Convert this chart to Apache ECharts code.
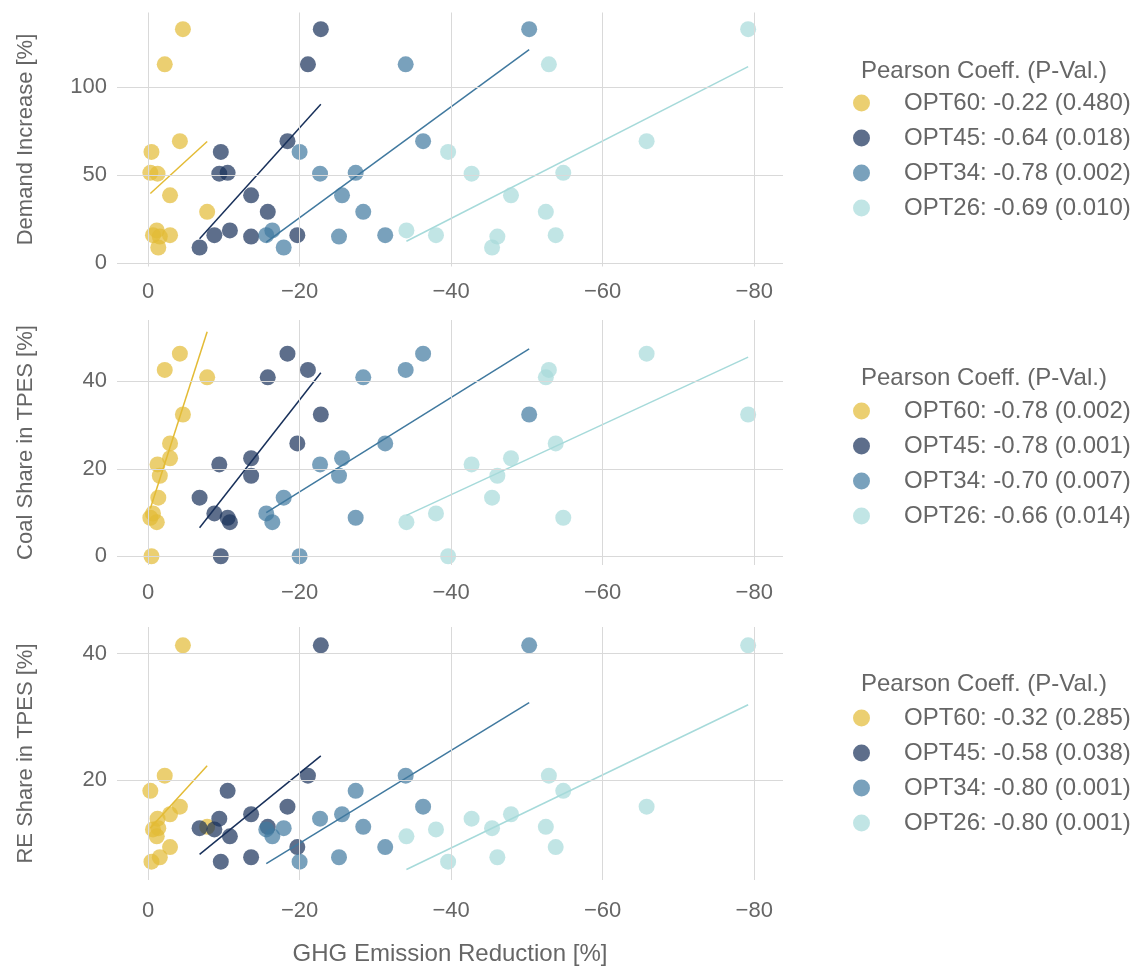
<!DOCTYPE html>
<html>
<head>
<meta charset="utf-8">
<script src="https://cdn.jsdelivr.net/npm/echarts@6/dist/echarts.min.js"></script>
<style>
html,body{margin:0;padding:0;background:#fff}
#main{width:1137px;height:967px}
</style>
</head>
<body>
<div id="main"></div>
<script>
// one value per country, same order in every array
const x60 = [-4.6, -2.2, -4.2, -0.45, -0.3, -1.25, -2.9, -7.8, -1.15, -0.65, -1.55, -2.9, -1.35]
const x45 = [-22.8, -21.1, -18.4, -9.6, -10.5, -9.4, -13.6, -15.8, -10.8, -8.75, -13.6, -19.7, -6.8]
const x34 = [-50.3, -34.0, -36.3, -20.0, -27.4, -22.7, -25.6, -28.4, -16.4, -15.6, -25.2, -31.3, -17.9]
const x26 = [-79.2, -52.9, -65.8, -39.6, -54.8, -42.7, -47.9, -52.5, -34.1, -38.0, -46.1, -53.8, -45.4]

const demandIncrease = [133, 113, 69.3, 63.2, 51.3, 50.8, 38.5, 29.1, 18.5, 15.8, 15.0, 15.8, 8.8]
const coalShare = [32.4, 42.6, 46.3, 0, 8.8, 21.0, 22.4, 40.9, 7.8, 9.8, 18.4, 25.8, 13.4]
const reShare = [41.3, 20.7, 15.8, 7.1, 18.3, 13.9, 14.6, 12.6, 11.1, 12.2, 7.8, 9.4, 12.4]

const scenarios = ['OPT60', 'OPT45', 'OPT34', 'OPT26']
const legendDemand = ['OPT60: -0.22 (0.480)', 'OPT45: -0.64 (0.018)', 'OPT34: -0.78 (0.002)', 'OPT26: -0.69 (0.010)']
const legendCoal = ['OPT60: -0.78 (0.002)', 'OPT45: -0.78 (0.001)', 'OPT34: -0.70 (0.007)', 'OPT26: -0.66 (0.014)']
const legendRe = ['OPT60: -0.32 (0.285)', 'OPT45: -0.58 (0.038)', 'OPT34: -0.80 (0.001)', 'OPT26: -0.80 (0.001)']

const xTicks = [0, -20, -40, -60, -80]
const yTicksDemand = [0, 50, 100]
const yTicksCoal = [0, 20, 40]
const yTicksRe = [20, 40]

const xByScenario = [x60, x45, x34, x26]
const colors = ['#E3BB35', '#18305A', '#40799F', '#A6DADA']
const textColor = '#666'
const gridColor = '#d9d9d9'
const font = 'Liberation Sans, Arial, Helvetica, sans-serif'

const panels = [
	{ name: 'Demand Increase [%]', values: demandIncrease, legend: legendDemand, ticks: yTicksDemand, min: -2, max: 142.5, top: 12.5, height: 254, labelMargin: 14, titleTop: 59, legendTop: 91 },
	{ name: 'Coal Share in TPES [%]', values: coalShare, legend: legendCoal, ticks: yTicksCoal, min: -2, max: 54, top: 320, height: 245, labelMargin: 17, titleTop: 366, legendTop: 399 },
	{ name: 'RE Share in TPES [%]', values: reShare, legend: legendRe, ticks: yTicksRe, min: 4.2, max: 44.2, top: 627, height: 253, labelMargin: 20, titleTop: 672, legendTop: 706 }
]

// least squares line over the x range of the series
function fitLine(xs, ys) {
	const n = xs.length
	const mx = xs.reduce((a, b) => a + b, 0) / n
	const my = ys.reduce((a, b) => a + b, 0) / n
	let sxy = 0, sxx = 0
	for (let i = 0; i < n; i++) {
		sxy += (xs[i] - mx) * (ys[i] - my)
		sxx += (xs[i] - mx) * (xs[i] - mx)
	}
	const b = sxy / sxx
	const a = my - b * mx
	const lo = Math.min(...xs), hi = Math.max(...xs)
	return [[lo, a + b * lo], [hi, a + b * hi]]
}

const fmtTick = (v) => v < 0 ? '\u2212' + Math.abs(v) : String(v)

const grid = [], xAxis = [], yAxis = [], series = [], legend = [], title = []

panels.forEach((p, k) => {
	grid.push({ left: 117, width: 666, top: p.top, height: p.height })
	xAxis.push({
		gridIndex: k, type: 'value', inverse: true, min: -83.8, max: 4.1,
		axisLine: { show: false }, axisTick: { show: false }, splitLine: { show: false },
		axisLabel: { customValues: xTicks, formatter: fmtTick, color: textColor, fontSize: 22, fontFamily: font, margin: p.labelMargin },
		name: k == 2 ? 'GHG Emission Reduction [%]' : '',
		nameLocation: 'middle', nameGap: 62,
		nameTextStyle: { color: textColor, fontSize: 24, fontFamily: font }
	})
	yAxis.push({
		gridIndex: k, type: 'value', min: p.min, max: p.max,
		axisLine: { show: false }, axisTick: { show: false }, splitLine: { show: false },
		axisLabel: { customValues: p.ticks, formatter: fmtTick, color: textColor, fontSize: 22, fontFamily: font, margin: 10 },
		name: p.name, nameLocation: 'middle', nameGap: 80,
		nameTextStyle: { color: textColor, fontSize: 22, fontFamily: font }
	})
	// grid lines through the axis scales
	series.push({
		type: 'line', xAxisIndex: k, yAxisIndex: k, data: [], silent: true, z: 0,
		markLine: {
			silent: true, symbol: 'none', animation: false,
			label: { show: false },
			lineStyle: { color: gridColor, width: 1, type: 'solid' },
			emphasis: { disabled: true },
			data: xTicks.map(v => ({ xAxis: v })).concat(p.ticks.map(v => ({ yAxis: v })))
		}
	})
	scenarios.forEach((s, j) => {
		const xs = xByScenario[j]
		series.push({
			name: p.legend[j], type: 'scatter', xAxisIndex: k, yAxisIndex: k,
			symbolSize: 16, z: 2,
			itemStyle: { color: colors[j], opacity: 0.7 },
			data: xs.map((x, i) => [x, p.values[i]])
		})
		series.push({
			name: s + '_fit_' + k, type: 'line', xAxisIndex: k, yAxisIndex: k,
			showSymbol: false, silent: true, z: 3,
			lineStyle: { color: colors[j], width: 1.5 },
			data: fitLine(xs, p.values)
		})
	})
	title.push({
		text: 'Pearson Coeff. (P-Val.)', left: 861, top: p.titleTop, padding: 0,
		textStyle: { color: textColor, fontSize: 24, fontWeight: 'normal', fontFamily: font }
	})
	legend.push({
		data: p.legend, orient: 'vertical', left: 853, top: p.legendTop, padding: 0,
		icon: 'circle', itemWidth: 17, itemHeight: 17, itemGap: 11,
		formatter: (n) => '{s|}' + n,
		textStyle: { color: textColor, fontSize: 24, fontFamily: font, rich: { s: { width: 29 } } }
	})
})

const chart = echarts.init(document.getElementById('main'), null, { renderer: 'canvas' })
chart.setOption({
	animation: false,
	backgroundColor: '#fff',
	textStyle: { fontFamily: font },
	title: title,
	legend: legend,
	grid: grid,
	xAxis: xAxis,
	yAxis: yAxis,
	series: series
})
</script>
</body>
</html>
